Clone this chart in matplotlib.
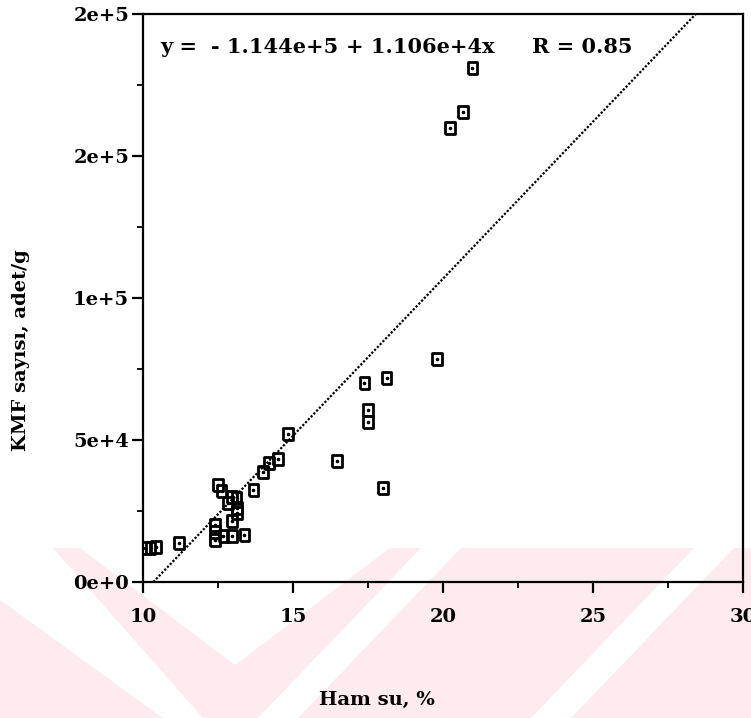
import numpy as np
import matplotlib
matplotlib.use("Agg")
import matplotlib.pyplot as plt
from matplotlib.patches import Polygon

# data
ham_su = [20.98, 20.66, 20.23, 19.80, 18.12, 17.38, 17.49, 17.49, 14.84, 14.49,
          14.21, 13.99, 13.68, 16.46, 18.01, 12.51, 12.62, 12.96, 13.12, 12.84,
          13.14, 13.14, 12.96, 12.40, 12.40, 12.40, 12.68, 12.96, 13.38, 11.21,
          10.07, 10.43, 10.25]
kmf = [181000, 165500, 160000, 78500, 72000, 70000, 60500, 56500, 52000, 43300,
       41800, 38800, 32400, 42600, 33000, 34200, 32000, 30000, 29500, 27700,
       25900, 24400, 21500, 20100, 17700, 14800, 16300, 16300, 16500, 13600,
       11900, 12400, 12000]

# regression shown on the chart
intercept = -1.144e5
slope = 1.106e4
r_value = 0.85

x_ticks = [10, 15, 20, 25, 30]
y_ticks = [0, 50000, 100000, 150000, 200000]
y_tick_labels = ["0e+0", "5e+4", "1e+5", "2e+5", "2e+5"]

font = "DejaVu Serif"
W, H = 751, 718


def px(x, y):
    # pixel position (from top-left) -> figure fraction
    return (x / W, 1 - y / H)


fig = plt.figure(figsize=(7.51, 7.18), dpi=100)

# faint pink watermark in the lower part of the page
pink = "#fdebef"
wm_pink = [[(0, 548), (751, 548), (751, 718), (0, 718)]]
wm_white = [
    [(0, 548), (53, 548), (203, 718), (163, 718), (0, 600)],
    [(80, 548), (390, 548), (235, 665)],
    [(421, 548), (461, 548), (298, 718), (258, 718)],
    [(694, 548), (734, 548), (571, 718), (531, 718)],
]
for poly, col in [(p, pink) for p in wm_pink] + [(p, "white") for p in wm_white]:
    fig.patches.append(Polygon([px(*v) for v in poly], closed=True,
                               transform=fig.transFigure, facecolor=col,
                               edgecolor="none", zorder=-2))

ax = fig.add_axes([143 / W, 1 - 582 / H, 600 / W, 568 / H])
ax.set_facecolor("none")
ax.set_zorder(1)

box = [(-0.4, -0.5), (0.4, -0.5), (0.4, 0.5), (-0.4, 0.5), (-0.4, -0.5)]
ax.scatter(ham_su, kmf, marker=box, s=75, facecolors="none",
           edgecolors="black", linewidths=2.0, zorder=3)
ax.scatter(ham_su, kmf, marker="o", s=2.5, color="black", zorder=4)

xl = np.array([-intercept / slope, (200000 - intercept) / slope])
ax.plot(xl, intercept + slope * xl, color="black", lw=1.6,
        linestyle=(0, (1, 0.8)), zorder=2)

ax.set_xlim(10, 30)
ax.set_ylim(0, 200000)
ax.set_xticks(x_ticks)
ax.set_xticks([12.5, 17.5, 22.5, 27.5], minor=True)
ax.set_yticks(y_ticks)
ax.set_yticks([25000, 75000, 125000, 175000], minor=True)
ax.set_yticklabels(y_tick_labels)
ax.tick_params(which="major", direction="out", length=8, width=1.6,
               labelsize=14)
ax.tick_params(axis="y", which="major", pad=2)
ax.tick_params(axis="x", which="major", pad=11)
ax.tick_params(which="minor", direction="out", length=4, width=1.3)
for lab in ax.get_xticklabels() + ax.get_yticklabels():
    lab.set_fontfamily(font)
    lab.set_fontweight("bold")
for s in ax.spines.values():
    s.set_linewidth(1.6)

# equation placed in pieces to match the wide spacing of the original
eq_parts = [("y =", 160), ("- 1.144e+5", 211), ("+ 1.106e+4x", 346),
            ("R = 0.85", 532)]
for txt, xpos in eq_parts:
    fig.text(*px(xpos, 47), txt, fontsize=15, fontweight="bold",
             fontfamily=font, va="center", ha="left")

fig.text(*px(377, 700), "Ham su, %", fontsize=14, fontweight="bold",
         fontfamily=font, ha="center", va="center")
fig.text(*px(21, 350), "KMF sayısı, adet/g", fontsize=14, fontweight="bold",
         fontfamily=font, ha="center", va="center", rotation=90)

fig.savefig("out.png", dpi=100)
plt.close()
